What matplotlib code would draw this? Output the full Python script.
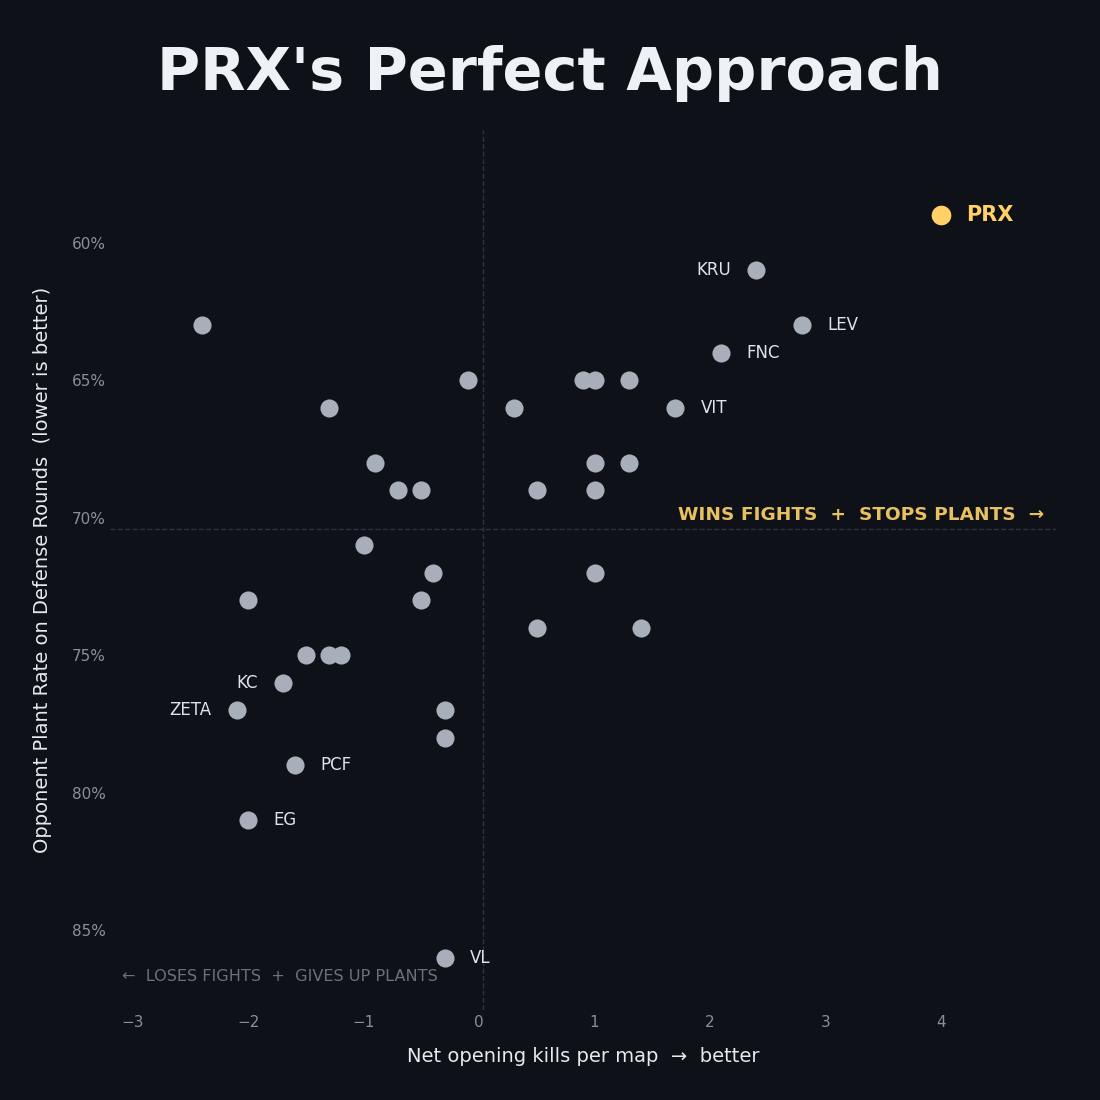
import matplotlib
matplotlib.use("Agg")
import matplotlib.pyplot as plt
from matplotlib.ticker import FuncFormatter

teams = ["PRX","KRU","LEV","FNC","VIT","KC","ZETA","PCF","EG","VL"]
team_x = [4.0,2.4,2.8,2.1,1.7,-1.7,-2.1,-1.6,-2.0,-0.3]
team_y = [59,61,63,64,66,76,77,79,81,86]
label_side = ["r","l","r","r","r","l","l","r","r","r"]
other_x = [-2.4,-0.1,0.9,1.0,1.3,-1.3,0.3,-0.9,1.0,1.3,-0.7,-0.5,0.5,1.0,-1.0,-0.4,1.0,-2.0,-0.5,0.5,1.4,-1.5,-1.3,-1.2,-0.3,-0.3]
other_y = [63,65,65,65,65,66,66,68,68,68,69,69,69,69,71,72,72,73,73,74,74,75,75,75,77,78]
ref_x, ref_y = 0.03, 70.4

bg = "#0e1117"
fig = plt.figure(figsize=(11,11), dpi=100, facecolor=bg)
ax = fig.add_axes([0.1, 0.082, 0.86, 0.80], facecolor=bg)
ax.set_xlim(-3.2, 5.0)
ax.set_ylim(87.9, 55.9)
for s in ax.spines.values(): s.set_visible(False)
ax.tick_params(length=0, colors="#8a8f98", labelsize=11)
ax.tick_params(axis="x", pad=4)
ax.tick_params(axis="y", pad=3)
ax.set_xticks([-3,-2,-1,0,1,2,3,4])
ax.xaxis.set_major_formatter(FuncFormatter(lambda v,p: f"{int(v)}".replace("-","\u2212")))
ax.set_yticks([60,65,70,75,80,85])
ax.yaxis.set_major_formatter(FuncFormatter(lambda v,p: f"{int(v)}%"))
ax.axvline(ref_x, color="#2c3340", ls="--", lw=1)
ax.axhline(ref_y, color="#2c3340", ls="--", lw=1)

ax.scatter(other_x, other_y, s=170, color="#a8afbb", zorder=3, linewidths=0)
for t,x,y,side in zip(teams,team_x,team_y,label_side):
    if t == "PRX":
        ax.scatter([x],[y], s=200, color="#ffd166", zorder=4, linewidths=0)
        ax.text(x+0.22, y, t, color="#ffd166", fontsize=15, fontweight="bold", va="center", ha="left")
    else:
        ax.scatter([x],[y], s=170, color="#a8afbb", zorder=3, linewidths=0)
        if side == "r":
            ax.text(x+0.22, y, t, color="#dfe3ea", fontsize=12, va="center", ha="left")
        else:
            ax.text(x-0.22, y, t, color="#dfe3ea", fontsize=12, va="center", ha="right")

ax.text(4.9, 69.9, "WINS FIGHTS  +  STOPS PLANTS  \u2192", color="#e8c060", fontsize=13.3,
        fontweight="bold", ha="right", va="center")
ax.text(-3.1, 86.7, "\u2190  LOSES FIGHTS  +  GIVES UP PLANTS", color="#6b717b", fontsize=11.6,
        ha="left", va="center")
ax.set_xlabel("Net opening kills per map  \u2192  better", color="#e6e9ee", fontsize=14, labelpad=12)
ax.set_ylabel("Opponent Plant Rate on Defense Rounds  (lower is better)", color="#e6e9ee", fontsize=14, labelpad=14)
fig.text(0.5, 0.933, "PRX's Perfect Approach", color="#eef1f5", fontsize=42.5, fontweight="bold", ha="center", va="center")
fig.savefig("out.png", facecolor=bg)
